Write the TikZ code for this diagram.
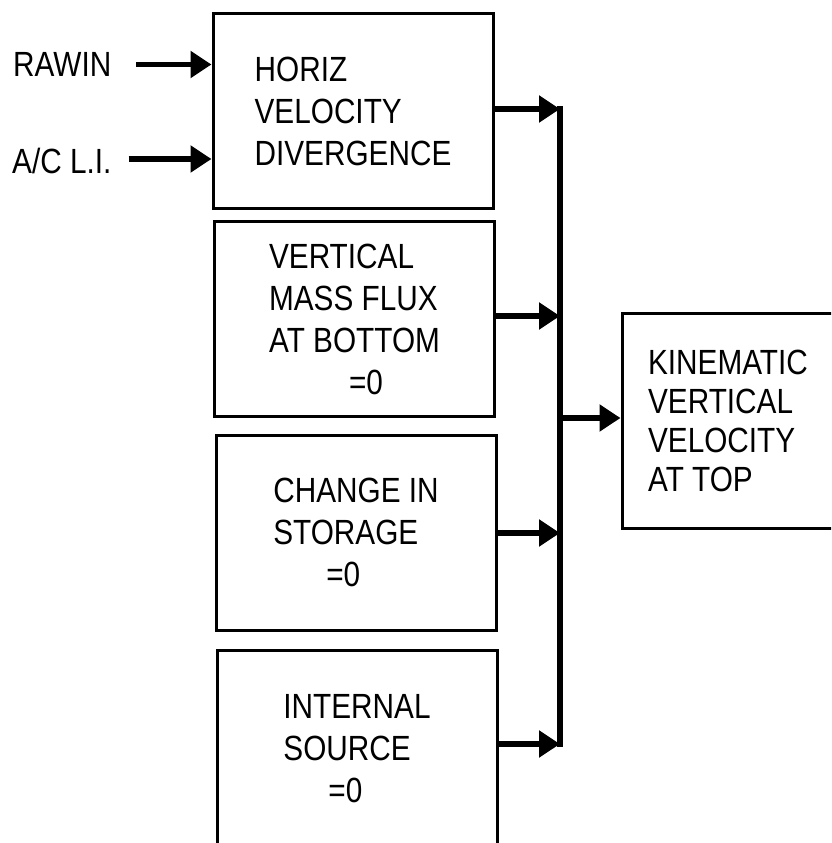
\documentclass[tikz,border=0pt]{standalone}
\usepackage{fontspec}
\setmainfont{Liberation Sans}[FakeStretch=0.85]
\usetikzlibrary{arrows.meta}

\begin{document}
\begin{tikzpicture}[x=1pt, y=-1pt, >={Triangle[length=21pt,width=26pt]},
	every node/.style={font=\fontsize{35}{42}\selectfont, inner sep=0pt},
	box/.style={draw, line width=3pt, minimum width=280pt, minimum height=195pt, align=left},
	flow/.style={->, line width=5.5pt}]
	% 0. 画布范围 (右框与下框超出画面，直接裁掉)
	\useasboundingbox (0,0) rectangle (831,843);
	\clip (0,0) rectangle (831,843);
	
	% 1. 左侧四个方框
	\node[box] (horiz) at (353,111) {HORIZ\\VELOCITY\\DIVERGENCE};
	\node[box] (flux) at (354.5,319) {VERTICAL\\MASS FLUX\\AT BOTTOM\\\hspace*{80pt}=0};
	\node[box] (storage) at (356,532.5) {CHANGE IN\\STORAGE\\\hspace*{53pt}=0};
	\node[box, minimum height=197pt] (source) at (357,748.5) {INTERNAL\\SOURCE\\\hspace*{45pt}=0};
	
	% 2. 右侧结果框
	\node[box, minimum width=212pt, minimum height=215pt, font=\fontsize{35}{39}\selectfont] (kin) at (728,420.5) {KINEMATIC\\VERTICAL\\VELOCITY\\AT TOP};
	
	% 3. 输入标签
	\node[anchor=west] (rawin) at (13,64.5) {RAWIN};
	\node[anchor=west] (acli) at (12,161) {A/C L.I.};
	
	% 4. 汇流竖线上的接点
	\coordinate (b1) at (560,109);
	\coordinate (b2) at (560,316);
	\coordinate (b3) at (560,533);
	\coordinate (b4) at (560,744);
	\coordinate (bout) at (560,418);
	\draw[line width=6pt] ([yshift=3pt]b1) -- ([yshift=-3pt]b4);
	
	% 5. 箭头
	\draw[flow] ([xshift=25pt]rawin.east) -- (horiz.west |- rawin.east);
	\draw[flow] ([xshift=17pt]acli.east |- 0,159) -- (horiz.west |- 0,159);
	\draw[flow] (horiz.east |- b1) -- (b1);
	\draw[flow] (flux.east |- b2) -- (b2);
	\draw[flow] (storage.east |- b3) -- (b3);
	\draw[flow] (source.east |- b4) -- (b4);
	\draw[flow] (bout) -- (kin.west |- bout);
\end{tikzpicture}
\end{document}
